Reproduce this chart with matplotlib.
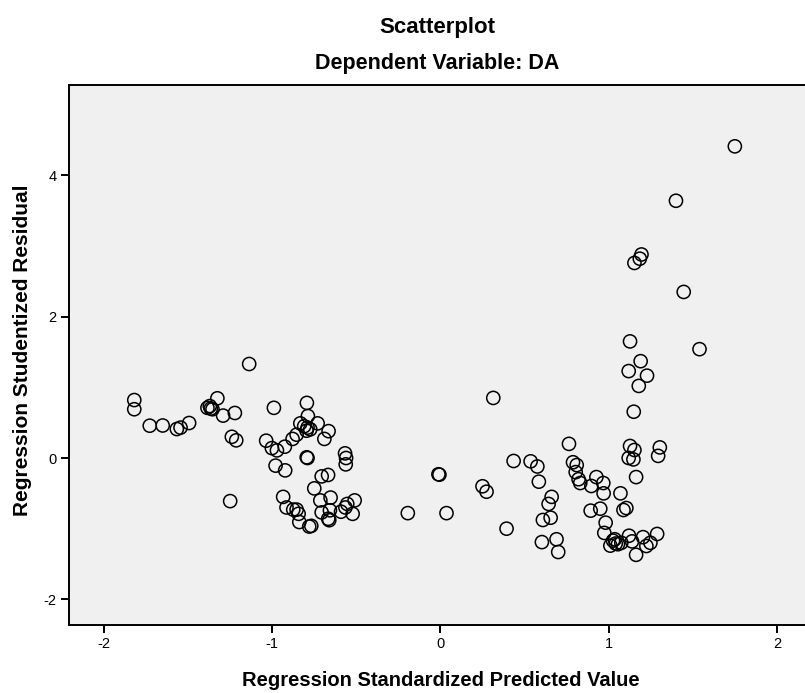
import matplotlib
matplotlib.use("Agg")
import matplotlib.pyplot as plt

plt.rcParams['font.family'] = ['Liberation Sans', 'DejaVu Sans']
plt.rcParams['axes.unicode_minus'] = False

# regression standardized predicted value / studentized residual
pred = [
    -1.82, -1.82, -1.728, -1.651, -1.567, -1.545, -1.494,
    -1.385, -1.371, -1.365, -1.355, -1.326, -1.292, -1.222, -1.24, -1.214, -1.25, -1.137,
    -0.99, -1.036, -1.002, -0.972, -0.925, -0.98, -0.923,
    -0.935, -0.915, -0.875, -0.855, -0.843, -0.839,
    -0.879, -0.855, -0.833, -0.794, -0.788,
    -0.81, -0.79, -0.774, -0.796, -0.73, -0.665, -0.69,
    -0.795, -0.79,
    -0.567, -0.561, -0.563,
    -0.706, -0.668, -0.75, -0.714, -0.653,
    -0.706, -0.657, -0.667, -0.661,
    -0.591, -0.565, -0.554, -0.51, -0.522,
    -0.78, -0.768,
    -0.194, -0.012, -0.006, 0.036, 0.314, 0.25, 0.274, 0.393, 0.435,
    0.536, 0.576, 0.585, 0.661, 0.643, 0.609, 0.655, 0.603, 0.69, 0.70,
    1.127, 1.54, 1.19, 1.119, 1.228, 1.179, 1.149, 0.764,
    1.127, 1.153, 1.119, 1.147, 1.304, 1.294, 1.163,
    0.788, 0.81, 0.804, 0.821, 0.831,
    0.927, 0.897, 0.968, 0.97, 1.07,
    0.893, 0.95, 1.088, 1.105,
    0.982, 0.974,
    1.01, 1.026, 1.042, 1.055, 1.075, 1.036, 1.121, 1.139, 1.204, 1.224, 1.248, 1.288, 1.163,
    1.75, 1.40, 1.446, 1.195, 1.185, 1.153,
]
resid = [
    0.82, 0.69, 0.457, 0.46, 0.41, 0.43, 0.495,
    0.71, 0.735, 0.70, 0.69, 0.845, 0.60, 0.637, 0.30, 0.25, -0.61, 1.33,
    0.71, 0.245, 0.14, 0.108, 0.16, -0.108, -0.175,
    -0.55, -0.70, -0.73, -0.73, -0.79, -0.906,
    0.27, 0.33, 0.49, 0.78, 0.594,
    0.45, 0.43, 0.406, 0.386, 0.49, 0.38, 0.27,
    0.01, 0.0,
    0.066, 0.0, -0.09,
    -0.26, -0.24, -0.43, -0.6, -0.56,
    -0.77, -0.74, -0.86, -0.88,
    -0.76, -0.70, -0.65, -0.60, -0.79,
    -0.97, -0.96,
    -0.78, -0.23, -0.236, -0.78, 0.85, -0.40, -0.477, -1.00, -0.042,
    -0.047, -0.12, -0.335, -0.55, -0.65, -0.877, -0.845, -1.19, -1.15, -1.33,
    1.65, 1.54, 1.37, 1.23, 1.165, 1.02, 0.655, 0.20,
    0.17, 0.113, 0.0, -0.02, 0.15, 0.03, -0.27,
    -0.06, -0.10, -0.20, -0.30, -0.354,
    -0.27, -0.396, -0.354, -0.5, -0.50,
    -0.745, -0.717, -0.736, -0.708,
    -0.915, -1.06,
    -1.24, -1.17, -1.21, -1.22, -1.20, -1.15, -1.10, -1.18, -1.12, -1.245, -1.20, -1.075, -1.37,
    4.41, 3.64, 2.35, 2.88, 2.82, 2.76,
]

fig = plt.figure(figsize=(8.05, 6.93), dpi=100)
ax = fig.add_axes([69/805, 68/693, 736/805, 540/693])
ax.set_facecolor('#f0f0f0')

ax.scatter(pred, resid, s=90, facecolors='none', edgecolors='black', linewidths=1.1, zorder=3)

ax.set_xlim(-2.208, 2.167)
ax.set_ylim(-2.363, 5.278)
ax.set_xticks([-2, -1, 0, 1, 2])
ax.set_yticks([-2, 0, 2, 4])

ax.spines['right'].set_visible(False)
for s in ['left', 'bottom', 'top']:
    ax.spines[s].set_linewidth(1.4)
ax.tick_params(direction='out', length=6, width=1.4, labelsize=10.5, pad=3)

fig.text(441/805, 1 - 680/693, 'Regression Standardized Predicted Value',
         ha='center', va='center', fontsize=14.5, fontweight='bold')
fig.text(23/805, 1 - 350/693, 'Regression Studentized Residual', rotation=90,
         ha='center', va='center', fontsize=15, fontweight='bold')

fig.text(437/805, 1 - 27/693, 'Scatterplot', ha='center', va='center', fontsize=16, fontweight='bold')
fig.text(437/805, 1 - 63/693, 'Dependent Variable: DA', ha='center', va='center', fontsize=15.5, fontweight='bold')

fig.savefig('out.png', dpi=100)
